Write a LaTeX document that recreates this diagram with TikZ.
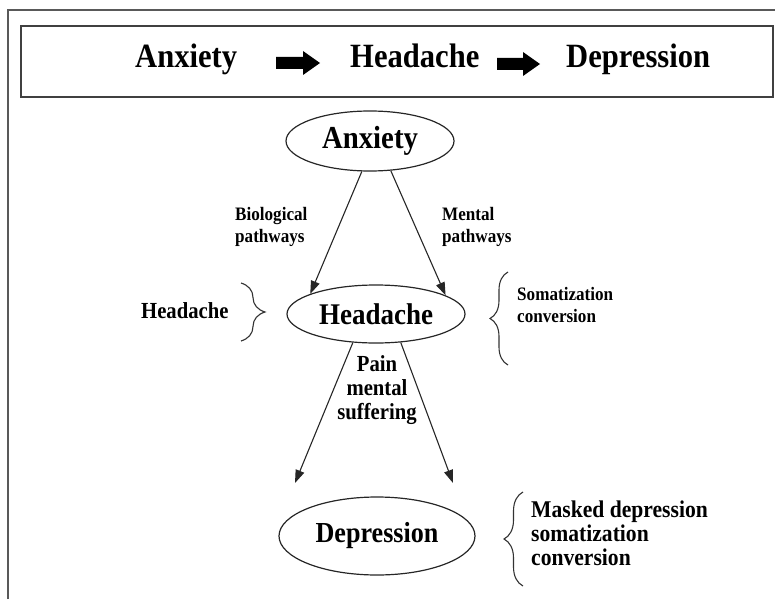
\documentclass[tikz,border=0pt]{standalone}
\usepackage{fontspec}
\setmainfont{Liberation Serif}[FakeStretch=0.9]
\usetikzlibrary{arrows.meta,decorations.pathreplacing,shapes.geometric}
\begin{document}
\begin{tikzpicture}[x=1pt,y=-1pt,
  frameline/.style={draw=black!65,line width=1.3pt},
  ell/.style={ellipse,draw=black!85,line width=1.2pt,inner sep=0pt},
  conn/.style={draw=black!85,line width=1.1pt,-{Triangle[length=13pt,width=9pt]}},
  blockarrow/.style={fill=black},
  bracestyle/.style={draw=black!80,line width=1.1pt,decorate},
  toptext/.style={font=\bfseries\fontsize{34}{40}\selectfont,inner sep=0pt,anchor=base west},
  elltext/.style={font=\bfseries\fontsize{#1}{#1}\selectfont},
  lbl/.style args={#1/#2}{font=\bfseries\fontsize{#1}{#2}\selectfont,inner sep=0pt},
]
\useasboundingbox (0,0) rectangle (775,599);
% outer frame and title box
\draw[frameline] (8,599) -- (8,10) -- (775,10);
\node[draw=black!75,line width=1.3pt,minimum width=752pt,minimum height=71pt,inner sep=0pt] (titlebox) at (397,61.5) {};
\node[toptext] (tA) at (135,68) {Anxiety};
\node[toptext] (tH) at (350,68) {Headache};
\node[toptext] (tD) at (566,68) {Depression};
\fill[blockarrow] (276,57) -- (303,57) -- (303,51) -- (320,63) -- (303,75) -- (303,69) -- (276,69) -- cycle;
\fill[blockarrow] (497,58) -- (523,58) -- (523,52) -- (540,64) -- (523,76) -- (523,70) -- (497,70) -- cycle;
% ellipses
\node[ell,minimum width=168pt,minimum height=60pt,elltext=32] (anx) at (370,141) {Anxiety};
\node[ell,minimum width=178pt,minimum height=58pt,elltext=30] (head) at (376,314) {Headache};
\node[ell,minimum width=196pt,minimum height=78pt,elltext=29] (dep) at (377,536) {Depression};
% connectors
\coordinate (e1) at (295,483);
\coordinate (e2) at (453,483);
\draw[conn] (anx.255) -- (head.163);
\draw[conn] (anx.305) -- (head.15);
\draw[conn] (head.-129) -- (e1);
\draw[conn] (head.-49) -- (e2);
% labels (anchor base = baseline of the last line)
\node[lbl=19/22,anchor=base west,align=left] (bio) at (235,242) {Biological\\pathways};
\node[lbl=19/22,anchor=base west,align=left] (men) at (442,242) {Mental\\pathways};
\node[lbl=23/24,anchor=base,align=center] (pain) at (377,419) {Pain\\mental\\suffering};
\node[lbl=23/24,anchor=base west] (hl) at (141,318) {Headache};
\node[lbl=19/22,anchor=base west,align=left] (som) at (517,322) {Somatization\\conversion};
\node[lbl=24/24,anchor=base west,align=left] (mask) at (531,565) {Masked depression\\somatization\\conversion};
% braces
\coordinate (b1t) at (241,283); \coordinate (b1b) at (241,341);
\coordinate (b2t) at (508,272); \coordinate (b2b) at (508,365);
\coordinate (b3t) at (523,492); \coordinate (b3b) at (523,586);
\draw[bracestyle,decoration={brace,amplitude=24pt}] (b1t) -- (b1b);
\draw[bracestyle,decoration={brace,amplitude=18pt}] (b2b) -- (b2t);
\draw[bracestyle,decoration={brace,amplitude=19pt}] (b3b) -- (b3t);
\end{tikzpicture}
\end{document}
